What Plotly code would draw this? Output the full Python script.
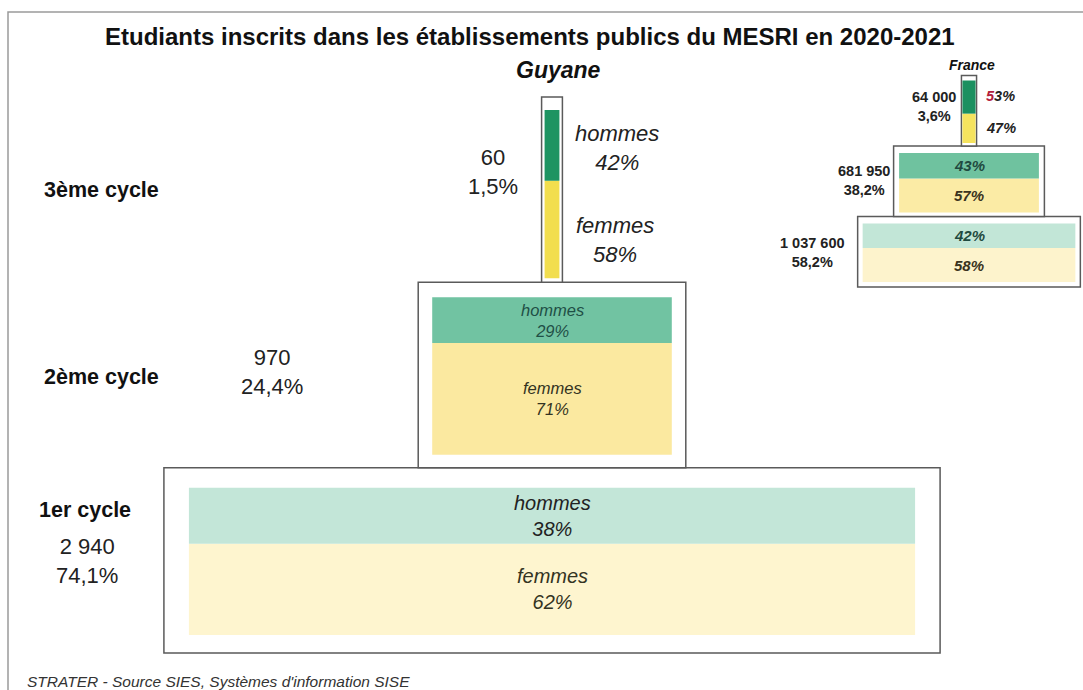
import plotly.graph_objects as go

# ---------------- data ----------------
CYCLES = ["1er cycle", "2ème cycle", "3ème cycle"]
GUY_COUNTS = [2940, 970, 60]
GUY_SHARE = [74.1, 24.4, 1.5]
GUY_HOMMES = [38, 29, 42]
GUY_FEMMES = [62, 71, 58]

FR_COUNTS = [1037600, 681950, 64000]
FR_SHARE = [58.2, 38.2, 3.6]
FR_HOMMES = [42, 43, 53]
FR_FEMMES = [58, 57, 47]

TITLE = "Etudiants inscrits dans les établissements publics du MESRI en 2020-2021"
SUBTITLE = "Guyane"
INSET_TITLE = "France"
SOURCE = "STRATER - Source SIES, Systèmes d'information SISE"

# ---------------- layout constants ----------------
W, H = 1083, 690
FONT = "Arial, Liberation Sans, sans-serif"

# main pyramid scale
SCALE = 0.247          # px per student
CX = 552               # px centre
LVL = 185.33           # px per level
BASE = 653             # px of level 0
BOX_PAD_X = [50, 28, 6]       # px
PAD_TOP = [20, 15, 13]        # px
PAD_BOT = [18, 13, 4]         # px
H_COL = ["#c3e6d8", "#71c3a2", "#1e9462"]
F_COL = ["#fef5cf", "#fbe9a0", "#f2de4e"]

# France inset scale
FSCALE = 2.05e-4
FCX = 969
FLVL = 70.5
FBASE = 287
FBOX_PAD_X = [10, 11, 2]
FPAD_TOP = [7, 7, 5]
FPAD_BOT = [5, 4, 3]
FH_COL = ["#c2e6d7", "#6fc29f", "#1b9060"]
FF_COL = ["#fdf3cc", "#fbeba5", "#f5e35e"]


def fmt_num(n):
    return f"{n:,}".replace(",", " ")


def fmt_pct(v):
    return f"{v:.1f}%".replace(".", ",")


def px(x):
    return x / W


def py(y):
    return 1 - y / H


fig = go.Figure()
levels = list(range(len(CYCLES)))


def add_pyramid(counts, hom, fem, scale, lvl, pad_x, pad_t, pad_b, hcol, fcol, xa, ya):
    # outer boxes
    fig.add_trace(go.Bar(
        x=[0] * len(counts), base=levels, y=[1] * len(counts),
        width=[c + pad_x[i] / scale for i, c in enumerate(counts)],
        marker=dict(color="white", line=dict(color="#5a5a5a", width=1.5)),
        xaxis=xa, yaxis=ya, hoverinfo="skip", showlegend=False))
    inner_h = [1 - (pad_t[i] + pad_b[i]) / lvl for i in levels]
    fb = [i + pad_b[i] / lvl for i in levels]
    fh = [inner_h[i] * fem[i] / 100 for i in levels]
    hb = [fb[i] + fh[i] for i in levels]
    hh = [inner_h[i] * hom[i] / 100 for i in levels]
    fig.add_trace(go.Bar(
        x=[0] * len(counts), base=fb, y=fh, width=counts,
        marker=dict(color=fcol, line=dict(width=0)),
        xaxis=xa, yaxis=ya, hoverinfo="skip", showlegend=False))
    fig.add_trace(go.Bar(
        x=[0] * len(counts), base=hb, y=hh, width=counts,
        marker=dict(color=hcol, line=dict(width=0)),
        xaxis=xa, yaxis=ya, hoverinfo="skip", showlegend=False))
    return fb, fh, hb, hh


gfb, gfh, ghb, ghh = add_pyramid(GUY_COUNTS, GUY_HOMMES, GUY_FEMMES, SCALE, LVL,
                                 BOX_PAD_X, PAD_TOP, PAD_BOT, H_COL, F_COL, "x", "y")
ffb, ffh, fhb, fhh = add_pyramid(FR_COUNTS, FR_HOMMES, FR_FEMMES, FSCALE, FLVL,
                                 FBOX_PAD_X, FPAD_TOP, FPAD_BOT, FH_COL, FF_COL, "x2", "y2")

ann = []


def A(text, x, y, size, xref="paper", yref="paper", bold=False, italic=False,
      color="#222222", xanchor="center", align="center"):
    t = text
    if bold:
        t = f"<b>{t}</b>"
    if italic:
        t = f"<i>{t}</i>"
    ann.append(dict(text=t, x=x, y=y, xref=xref, yref=yref, showarrow=False,
                    font=dict(family=FONT, size=size, color=color),
                    xanchor=xanchor, yanchor="middle", align=align))


# titles
A(TITLE, px(530), py(37), 24, bold=True, color="#111111")
A(SUBTITLE, px(558), py(70), 23, bold=True, italic=True, color="#111111")
A(INSET_TITLE, px(972), py(65), 14, bold=True, italic=True, color="#111111")
A(SOURCE, px(25), py(681), 15.5, italic=True, xanchor="left", align="left", color="#333333")

# cycle labels (Guyane)
cyc_pos = [(85, 510), (101, 377), (101, 190)]
for i in levels:
    A(CYCLES[i], px(cyc_pos[i][0]), py(cyc_pos[i][1]), 21.5, bold=True, color="#111111")

cnt_pos = [(87, 561), (272, 372), (493, 172)]
for i in levels:
    A(f"{fmt_num(GUY_COUNTS[i])}<br>{fmt_pct(GUY_SHARE[i])}",
      px(cnt_pos[i][0]), py(cnt_pos[i][1]), 22, color="#222222")

# inner labels (1er and 2ème)
inner_size = [20, 16.5]
inner_hcol = ["#222222", "#1f4f46"]
for i in [0, 1]:
    A(f"hommes<br>{GUY_HOMMES[i]}%", 0, ghb[i] + ghh[i] / 2, inner_size[i],
      xref="x", yref="y", italic=True, color=inner_hcol[i])
    A(f"femmes<br>{GUY_FEMMES[i]}%", 0, gfb[i] + gfh[i] / 2, inner_size[i],
      xref="x", yref="y", italic=True, color="#333322")

# 3ème cycle side labels
A(f"hommes<br>{GUY_HOMMES[2]}%", px(617), py(148), 22, italic=True)
A(f"femmes<br>{GUY_FEMMES[2]}%", px(615), py(240), 22, italic=True)

# France labels
fcnt_pos = [(847, 252), (892, 181), (958, 106)]
for i in levels:
    A(f"{fmt_num(FR_COUNTS[i])}<br>{fmt_pct(FR_SHARE[i])}",
      px(fcnt_pos[i][0]), py(fcnt_pos[i][1]), 14.5, bold=True, xanchor="right",
      align="center", color="#222222")

for i in [0, 1]:
    A(f"{FR_HOMMES[i]}%", 0, fhb[i] + fhh[i] / 2, 15, xref="x2", yref="y2",
      bold=True, italic=True, color="#1f4a40")
    A(f"{FR_FEMMES[i]}%", 0, ffb[i] + ffh[i] / 2, 15, xref="x2", yref="y2",
      bold=True, italic=True, color="#3a3320")

h3 = str(FR_HOMMES[2])
A(f"<span style='color:#b3203c'>{h3[0]}</span>{h3[1:]}%", px(984), py(96), 14.5,
  bold=True, italic=True, xanchor="left")
A(f"{FR_FEMMES[2]}%", px(984), py(128), 14.5, bold=True, italic=True, xanchor="left")

shapes = [dict(type="rect", xref="paper", yref="paper",
               x0=px(8), y0=py(700), x1=px(1090), y1=py(12),
               line=dict(color="#9a9a9a", width=1.5), fillcolor="rgba(0,0,0,0)",
               layer="below")]

fig.update_layout(
    width=W, height=H,
    margin=dict(l=0, r=0, t=0, b=0),
    paper_bgcolor="white", plot_bgcolor="rgba(0,0,0,0)",
    barmode="overlay",
    showlegend=False,
    annotations=ann,
    shapes=shapes,
    xaxis=dict(domain=[0, 1], range=[-CX / SCALE, (W - CX) / SCALE], visible=False,
               fixedrange=True),
    yaxis=dict(domain=[0, 1], range=[-(H - BASE) / LVL, BASE / LVL], visible=False,
               fixedrange=True),
    xaxis2=dict(domain=[0, 1], range=[-FCX / FSCALE, (W - FCX) / FSCALE], visible=False,
                overlaying="x", fixedrange=True),
    yaxis2=dict(domain=[0, 1], range=[-(H - FBASE) / FLVL, FBASE / FLVL], visible=False,
                overlaying="y", fixedrange=True),
)

fig.write_html("out.html",
               config={"displayModeBar": False},
               post_script="document.body.style.margin='0px';"
                           "document.body.style.overflow='hidden';")
